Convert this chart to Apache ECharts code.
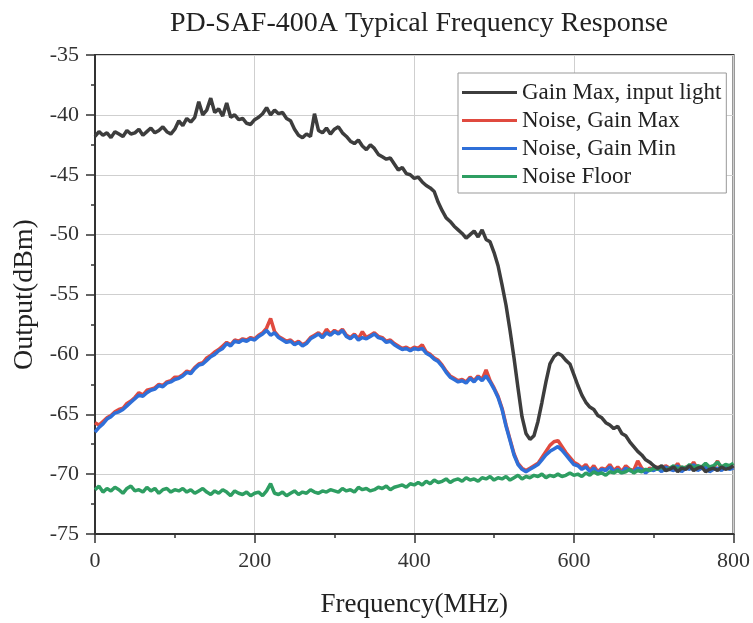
<!DOCTYPE html>
<html>
<head>
<meta charset="utf-8">
<script src="https://cdn.jsdelivr.net/npm/echarts@6/dist/echarts.min.js"></script>
<style>html,body{margin:0;padding:0;background:#fff}#c{width:753px;height:623px}</style>
</head>
<body>
<div id="c"></div>
<script>
// Frequency grid: 0..800 MHz sampled every 5 MHz
var freqStep = 5;
var seriesNames = ['Gain Max, input light', 'Noise, Gain Max', 'Noise, Gain Min', 'Noise Floor'];
var xTicks = [0, 200, 400, 600, 800];
var yTicks = [-75, -70, -65, -60, -55, -50, -45, -40, -35];

var gainMaxLight = [
-41.8,-41.4,-41.7,-41.5,-41.9,-41.4,-41.6,-41.8,-41.3,-41.6,-41.5,-41.2,-41.7,-41.4,-41.1,-41.5,-41.3,-41.0,-41.4,-41.6,-41.2,
-40.5,-40.9,-40.3,-40.6,-40.2,-38.9,-40.0,-39.6,-38.6,-39.8,-39.5,-40.1,-39.0,-40.2,-40.0,-40.4,-40.3,-40.7,-40.8,-40.4,
-40.2,-39.9,-39.4,-40.0,-39.6,-39.9,-39.8,-40.3,-40.5,-41.2,-41.7,-41.9,-41.6,-41.8,-39.9,-41.3,-41.5,-41.1,-41.6,-41.2,
-41.0,-41.5,-41.8,-42.2,-42.4,-42.1,-42.6,-42.9,-42.5,-42.8,-43.3,-43.5,-43.7,-43.6,-44.1,-44.6,-44.4,-44.9,-45.0,-45.3,
-45.2,-45.6,-45.9,-46.1,-46.4,-47.3,-48.0,-48.6,-48.9,-49.3,-49.6,-49.9,-50.3,-50.0,-49.7,-50.2,-49.6,-50.4,-50.6,-51.5,
-52.6,-54.2,-55.9,-58.0,-60.3,-62.8,-65.2,-66.6,-67.1,-66.8,-65.6,-64.0,-62.3,-60.8,-60.2,-59.9,-60.1,-60.5,-60.8,-61.7,
-62.6,-63.4,-64.0,-64.4,-64.6,-65.1,-65.3,-65.7,-65.9,-66.2,-66.0,-66.6,-66.8,-67.3,-67.7,-68.1,-68.4,-68.8,-69.0,-69.3,
-69.5,-69.3,-69.7,-69.6,-69.4,-69.8,-69.5,-69.6,-69.3,-69.7,-69.5,-69.4,-69.8,-69.6,-69.5,-69.7,-69.4,-69.6,-69.5,-69.3
];

var noiseGainMax = [
-65.7,-65.9,-65.6,-65.3,-65.1,-64.8,-64.6,-64.5,-64.1,-63.9,-63.6,-63.2,-63.4,-63.0,-62.9,-62.8,-62.5,-62.6,-62.3,-62.2,-61.9,
-61.9,-61.7,-61.4,-61.5,-61.1,-60.8,-60.7,-60.3,-60.1,-59.8,-59.6,-59.3,-59.0,-59.2,-58.8,-58.9,-58.7,-58.8,-58.6,-58.7,
-58.4,-58.2,-57.8,-57.0,-58.1,-58.5,-58.7,-58.9,-58.8,-59.1,-58.9,-59.2,-59.0,-58.6,-58.4,-58.2,-58.5,-57.9,-58.3,-58.0,
-58.2,-57.9,-58.4,-58.6,-58.3,-58.7,-58.1,-58.6,-58.4,-58.2,-58.5,-58.6,-58.9,-58.8,-59.1,-59.3,-59.5,-59.4,-59.6,-59.4,
-59.5,-59.2,-59.8,-60.0,-60.3,-60.5,-60.9,-61.4,-61.8,-62.0,-62.2,-62.1,-62.3,-61.9,-62.2,-61.8,-62.1,-61.3,-62.2,-62.8,
-63.5,-64.5,-65.9,-67.1,-68.3,-69.1,-69.5,-69.7,-69.5,-69.3,-69.1,-68.6,-68.1,-67.6,-67.3,-67.2,-67.7,-68.2,-68.6,-69.0,
-69.2,-69.5,-69.2,-69.7,-69.3,-69.8,-69.5,-69.6,-69.2,-69.7,-69.4,-69.8,-69.3,-69.6,-69.7,-68.9,-69.5,-69.8,-69.5,-69.6,
-69.4,-69.7,-69.3,-69.5,-69.6,-69.1,-69.7,-69.4,-69.5,-69.0,-69.6,-69.4,-69.3,-69.7,-69.5,-68.9,-69.6,-69.3,-69.5,-69.4
];

var noiseGainMin = [
-66.5,-66.1,-65.8,-65.4,-65.2,-64.9,-64.8,-64.6,-64.3,-64.0,-63.7,-63.4,-63.5,-63.2,-63.0,-62.9,-62.6,-62.7,-62.4,-62.3,-62.1,
-62.0,-61.8,-61.5,-61.6,-61.2,-60.9,-60.8,-60.5,-60.2,-60.0,-59.7,-59.5,-59.1,-59.3,-58.9,-59.0,-58.8,-58.9,-58.7,-58.8,
-58.5,-58.3,-58.0,-58.4,-58.2,-58.6,-58.8,-59.0,-58.9,-59.2,-59.0,-59.3,-59.1,-58.7,-58.5,-58.3,-58.6,-58.2,-58.4,-58.1,
-58.3,-58.0,-58.5,-58.7,-58.4,-58.8,-58.6,-58.7,-58.5,-58.3,-58.6,-58.7,-59.0,-58.9,-59.2,-59.4,-59.6,-59.5,-59.7,-59.5,
-59.6,-59.5,-59.9,-60.1,-60.4,-60.6,-61.0,-61.5,-61.9,-62.1,-62.3,-62.2,-62.4,-62.0,-62.3,-61.9,-62.2,-61.8,-62.3,-62.9,
-63.6,-64.6,-66.0,-67.2,-68.4,-69.2,-69.6,-69.8,-69.6,-69.4,-69.2,-68.8,-68.4,-68.1,-67.9,-67.7,-68.0,-68.4,-68.8,-69.2,
-69.3,-69.6,-69.4,-69.8,-69.5,-69.9,-69.6,-69.7,-69.4,-69.8,-69.6,-69.9,-69.5,-69.7,-69.8,-69.5,-69.6,-69.9,-69.6,-69.7,
-69.5,-69.8,-69.4,-69.6,-69.7,-69.3,-69.8,-69.5,-69.6,-69.2,-69.7,-69.5,-69.4,-69.8,-69.6,-69.5,-69.7,-69.4,-69.6,-69.5
];

var noiseFloor = [
-71.3,-71.0,-71.5,-71.2,-71.4,-71.1,-71.3,-71.6,-71.2,-71.0,-71.4,-71.3,-71.5,-71.1,-71.4,-71.2,-71.6,-71.3,-71.2,-71.5,-71.3,
-71.4,-71.2,-71.5,-71.3,-71.6,-71.4,-71.2,-71.5,-71.7,-71.4,-71.6,-71.3,-71.5,-71.8,-71.4,-71.6,-71.7,-71.5,-71.8,-71.6,
-71.5,-71.8,-71.4,-70.8,-71.6,-71.7,-71.5,-71.8,-71.6,-71.4,-71.7,-71.5,-71.6,-71.3,-71.5,-71.6,-71.4,-71.5,-71.3,-71.4,
-71.5,-71.2,-71.4,-71.3,-71.5,-71.1,-71.3,-71.2,-71.4,-71.3,-71.1,-71.2,-71.0,-71.3,-71.1,-71.0,-70.9,-71.1,-70.8,-70.9,
-70.7,-70.9,-70.6,-70.8,-70.5,-70.7,-70.6,-70.4,-70.7,-70.5,-70.4,-70.6,-70.3,-70.5,-70.4,-70.6,-70.3,-70.4,-70.2,-70.5,
-70.3,-70.4,-70.2,-70.5,-70.3,-70.1,-70.4,-70.2,-70.3,-70.1,-70.2,-70.0,-70.3,-70.1,-70.2,-70.0,-70.2,-70.1,-69.9,-70.1,
-70.0,-70.2,-69.9,-70.1,-69.8,-70.0,-69.9,-70.1,-69.8,-69.9,-69.7,-69.9,-69.8,-69.6,-69.9,-69.7,-69.8,-69.6,-69.7,-69.5,
-69.6,-69.4,-69.7,-69.5,-69.3,-69.6,-69.4,-69.5,-69.2,-69.5,-69.3,-69.4,-69.1,-69.4,-69.3,-69.0,-69.4,-69.2,-69.3,-69.1
];

function pairs(arr) {
  return arr.map(function (v, i) { return [i * freqStep, v]; });
}

var FONT = '"Liberation Serif", "DejaVu Serif", serif';
var chart = echarts.init(document.getElementById('c'));

var option = {
  backgroundColor: '#fff',
  animation: false,
  title: {
    text: 'PD-SAF-400A Typical Frequency Response',
    left: 414, top: 5, textAlign: 'center',
    textStyle: { fontFamily: FONT, fontSize: 28, fontWeight: 'normal', color: '#222' }
  },
  grid: { left: 95, right: 19, top: 55, bottom: 88, show: true, borderColor: '#333', borderWidth: 2, backgroundColor: 'transparent' },
  legend: {
    orient: 'vertical', left: 458, top: 73,
    data: seriesNames,
    icon: 'rect', itemWidth: 55, itemHeight: 3, itemGap: 5,
    padding: [8, 5, 5, 4],
    backgroundColor: '#fff', borderColor: '#999', borderWidth: 1,
    textStyle: { fontFamily: FONT, fontSize: 23, color: '#222', lineHeight: 23 }
  },
  xAxis: {
    type: 'value', min: xTicks[0], max: xTicks[xTicks.length - 1], interval: 200,
    name: 'Frequency(MHz)', nameLocation: 'middle', nameGap: 57,
    nameTextStyle: { fontFamily: FONT, fontSize: 27, color: '#222' },
    axisLine: { show: true, onZero: false, lineStyle: { color: '#333', width: 2 } },
    axisTick: { show: true, length: 9, lineStyle: { color: '#333', width: 1.5 } },
    minorTick: { show: true, splitNumber: 2, length: 4, lineStyle: { color: '#333', width: 1.5 } },
    splitLine: { show: true, lineStyle: { color: '#cfcfcf', width: 1 } },
    axisLabel: { fontFamily: FONT, fontSize: 22, color: '#333', margin: 16 }
  },
  yAxis: {
    type: 'value', min: yTicks[0], max: yTicks[yTicks.length - 1], interval: 5,
    name: 'Output(dBm)', nameLocation: 'middle', nameGap: 55,
    nameTextStyle: { fontFamily: FONT, fontSize: 28, color: '#222' },
    axisLine: { show: true, onZero: false, lineStyle: { color: '#333', width: 2 } },
    axisTick: { show: true, length: 9, lineStyle: { color: '#333', width: 1.5 } },
    minorTick: { show: true, splitNumber: 2, length: 4, lineStyle: { color: '#333', width: 1.5 } },
    splitLine: { show: true, lineStyle: { color: '#cfcfcf', width: 1 } },
    axisLabel: { fontFamily: FONT, fontSize: 22, color: '#333', margin: 16 }
  },
  series: [
    { name: seriesNames[0], type: 'line', data: pairs(gainMaxLight), showSymbol: false, color: '#3d3d3d', lineStyle: { width: 3.5 }, z: 5 },
    { name: seriesNames[1], type: 'line', data: pairs(noiseGainMax), showSymbol: false, color: '#e04a3f', lineStyle: { width: 3.5 }, z: 2 },
    { name: seriesNames[2], type: 'line', data: pairs(noiseGainMin), showSymbol: false, color: '#2f6fd8', lineStyle: { width: 3.5 }, z: 3 },
    { name: seriesNames[3], type: 'line', data: pairs(noiseFloor), showSymbol: false, color: '#2e9e62', lineStyle: { width: 3.5 }, z: 4 }
  ]
};
chart.setOption(option);
</script>
</body>
</html>
